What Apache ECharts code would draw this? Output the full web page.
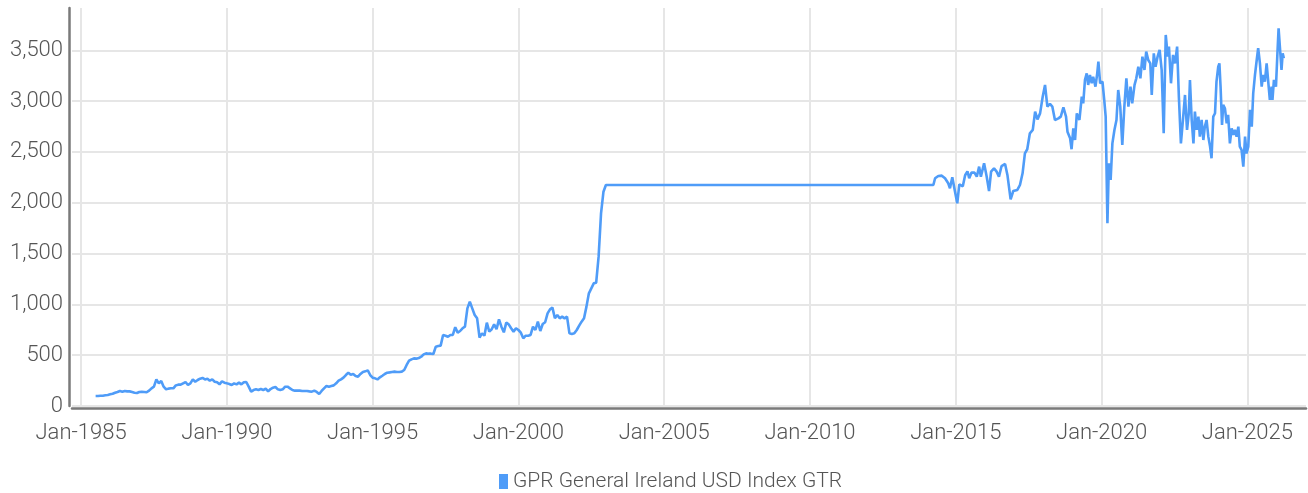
<!DOCTYPE html>
<html><head><meta charset="utf-8">
<script src="https://cdn.jsdelivr.net/npm/echarts@6/dist/echarts.min.js"></script>
<style>html,body{margin:0;padding:0;background:#fff}#c{width:1308px;height:493px}</style>
</head><body><div id="c"></div>
<script>
const seriesName = 'GPR General Ireland USD Index GTR';
const xTickYears = [1985, 1990, 1995, 2000, 2005, 2010, 2015, 2020, 2025];
const yTickValues = [0, 500, 1000, 1500, 2000, 2500, 3000, 3500];

// Monthly values, Jul-1985 .. Dec-1994
const monthlyStart1 = 1985.5;
const monthlyValues1985to1994 = [
  98, 98, 101, 101, 105, 108,
  115, 121, 131, 138, 148, 141, 148, 144, 144, 138, 131, 128,
  138, 141, 138, 135, 151, 174, 190, 262, 223, 246, 190, 164,
  171, 174, 174, 203, 210, 210, 223, 236, 207, 223, 262, 239,
  256, 269, 276, 262, 269, 249, 262, 239, 233, 213, 243, 230,
  223, 217, 207, 223, 213, 230, 213, 233, 236, 190, 141, 157,
  164, 157, 167, 157, 171, 144, 167, 180, 187, 164, 157, 164,
  190, 190, 174, 157, 151, 151, 151, 148, 148, 148, 144, 141,
  151, 138, 118, 148, 174, 197, 190, 197, 203, 223, 249, 262,
  279, 305, 328, 308, 315, 295, 289, 315, 335, 341, 351, 305
];
// Monthly values, Jan-1995 .. Jan-2003
const monthlyStart2 = 1995.0;
const monthlyValues1995to2003 = [
  279, 272, 262, 282, 298, 315, 328, 331, 335, 338, 335, 335,
  338, 354, 404, 446, 459, 469, 466, 472, 485, 508, 518, 515,
  515, 512, 584, 591, 594, 699, 692, 682, 699, 699, 775, 722,
  738, 765, 781, 961, 1027, 961, 896, 863, 673, 715, 692, 820,
  732, 755, 804, 755, 853, 781, 725, 820, 804, 765, 732, 765,
  748, 722, 666, 692, 692, 699, 781, 748, 830, 738, 807, 824,
  912, 951, 968, 863, 896, 863, 879, 863, 879, 715, 709, 715,
  748, 791, 830, 863, 978, 1109, 1158, 1207, 1214, 1470, 1896, 2109,
  2175
];
// Later readings (decimal year, value)
const laterYears = [
  2014.23, 2014.29, 2014.40, 2014.52, 2014.63, 2014.74, 2014.80, 2014.88, 2014.97,
  2015.05, 2015.12, 2015.24, 2015.32, 2015.40, 2015.46, 2015.54, 2015.64, 2015.72, 2015.80, 2015.86, 2015.97,
  2016.06, 2016.14, 2016.21, 2016.31, 2016.40, 2016.48, 2016.57, 2016.69, 2016.77, 2016.88, 2016.97,
  2017.11, 2017.20, 2017.29, 2017.37, 2017.45, 2017.54, 2017.64, 2017.72, 2017.80, 2017.89, 2017.98,
  2018.06, 2018.14, 2018.23, 2018.31, 2018.40, 2018.52, 2018.60, 2018.69, 2018.78, 2018.83, 2018.92, 2018.97,
  2019.03, 2019.09, 2019.15, 2019.24, 2019.32, 2019.37, 2019.43, 2019.49, 2019.54, 2019.60, 2019.66, 2019.71, 2019.79, 2019.85, 2019.89, 2019.95,
  2020.03, 2020.09, 2020.14, 2020.20, 2020.25, 2020.31, 2020.37, 2020.44, 2020.51, 2020.57, 2020.64, 2020.71, 2020.78, 2020.85, 2020.92, 2020.99,
  2021.05, 2021.13, 2021.19, 2021.26, 2021.33, 2021.40, 2021.47, 2021.53, 2021.60, 2021.67, 2021.72, 2021.79, 2021.85, 2021.92, 2021.99,
  2022.06, 2022.13, 2022.20, 2022.27, 2022.31, 2022.38, 2022.45, 2022.52, 2022.59, 2022.65, 2022.72, 2022.79, 2022.86, 2022.93, 2022.99,
  2023.03, 2023.09, 2023.15, 2023.20, 2023.26, 2023.32, 2023.37, 2023.43, 2023.49, 2023.54, 2023.60, 2023.66, 2023.72, 2023.77, 2023.83, 2023.89, 2023.94,
  2024.00, 2024.04, 2024.08, 2024.13, 2024.17, 2024.23, 2024.29, 2024.34, 2024.40, 2024.46, 2024.52, 2024.57, 2024.63, 2024.69, 2024.74, 2024.80, 2024.86, 2024.92, 2024.97,
  2025.03, 2025.09, 2025.15, 2025.20, 2025.26, 2025.32, 2025.37, 2025.43, 2025.49, 2025.54, 2025.60, 2025.66, 2025.72, 2025.77, 2025.83, 2025.86, 2025.91, 2025.98,
  2026.03, 2026.07, 2026.12, 2026.17, 2026.21, 2026.25
];
const laterValues = [
  2175, 2241, 2264, 2267, 2241, 2192, 2142, 2251, 2113,
  1995, 2182, 2162, 2271, 2310, 2241, 2297, 2297, 2257, 2356, 2257, 2388,
  2257, 2116, 2307, 2340, 2307, 2257, 2362, 2382, 2274, 2034, 2116,
  2126, 2175, 2290, 2487, 2527, 2684, 2717, 2897, 2821, 2880, 3044,
  3160, 2947, 2973, 2947, 2815, 2831, 2848, 2940, 2848, 2700, 2635, 2527,
  2733, 2618, 2880, 2815, 3044, 2979, 3209, 3274, 3160, 3258, 3176, 3241, 3143, 3274, 3389, 3176,
  3192, 3012, 2848, 1798, 2389, 2225, 2585, 2717, 2815, 3110, 2946, 2569, 2946, 3225, 2946, 3143,
  2979, 3160, 3225, 3340, 3225, 3438, 3307, 3488, 3405, 3372, 3061, 3471, 3340, 3438, 3504,
  3307, 2684, 3652, 3438, 3537, 3176, 3455, 3372, 3537, 3045, 2585, 2815, 3061, 2717, 2881,
  3209, 2815, 2585, 2897, 2717, 2848, 2651, 2815, 2618, 2749, 2815, 2651, 2553, 2438, 2848, 2881, 3192,
  3340, 3372, 3143, 2766, 2963, 2930, 2782, 2865, 2585, 2733, 2668, 2717, 2651, 2749, 2553, 2520, 2356, 2651, 2487,
  2553, 2914, 2749, 3078, 3258, 3405, 3521, 3372, 3143, 3258, 3192, 3372, 3176, 3012, 3143, 3012, 3209, 3143,
  3471, 3717, 3701, 3307, 3471, 3422
];

const data = [];
monthlyValues1985to1994.forEach((v, i) => data.push([monthlyStart1 + i / 12, v]));
monthlyValues1995to2003.forEach((v, i) => data.push([monthlyStart2 + i / 12, v]));
laterYears.forEach((y, i) => data.push([y, laterValues[i]]));

const FONT = 'Roboto, sans-serif';
const chart = echarts.init(document.getElementById('c'), null, { renderer: 'canvas' });
chart.setOption({
  animation: false,
  backgroundColor: '#ffffff',
  color: ['#4f9cf8'],
  grid: { left: 72, right: 2, top: 8, bottom: 87, containLabel: false },
  legend: {
    data: [{ name: seriesName, icon: 'rect' }],
    left: 494, top: 466,
    itemWidth: 9, itemHeight: 15,
    textStyle: { fontFamily: FONT, fontSize: 21, fontWeight: 300, color: '#555555' }
  },
  xAxis: {
    type: 'value',
    min: 1984.69, max: 2027.01,
    offset: 2,
    axisLine: { show: true, onZero: false, lineStyle: { color: '#7a7a7a', width: 2.5 } },
    axisTick: { show: false, customValues: xTickYears },
    axisLabel: {
      customValues: xTickYears,
      formatter: v => 'Jan-' + Math.round(v),
      fontFamily: FONT, fontSize: 22, fontWeight: 300, color: '#555555', margin: 14
    },
    splitLine: { show: true, lineStyle: { color: '#e6e6e6', width: 2 } }
  },
  yAxis: {
    type: 'value',
    min: 0, max: 3917,
    offset: 3,
    axisLine: { show: true, onZero: false, lineStyle: { color: '#7a7a7a', width: 2.5 } },
    axisTick: { show: false, customValues: yTickValues },
    axisLabel: {
      customValues: yTickValues,
      formatter: v => Number(v).toLocaleString('en-US'),
      fontFamily: FONT, fontSize: 22, fontWeight: 300, color: '#555555', margin: 6
    },
    splitLine: { show: true, lineStyle: { color: '#e6e6e6', width: 2 } }
  },
  series: [{
    name: seriesName,
    type: 'line',
    data: data,
    showSymbol: false,
    symbol: 'none',
    lineStyle: { width: 2.6, color: '#4f9cf8' },
    itemStyle: { color: '#4f9cf8' }
  }]
});
</script>
</body></html>
